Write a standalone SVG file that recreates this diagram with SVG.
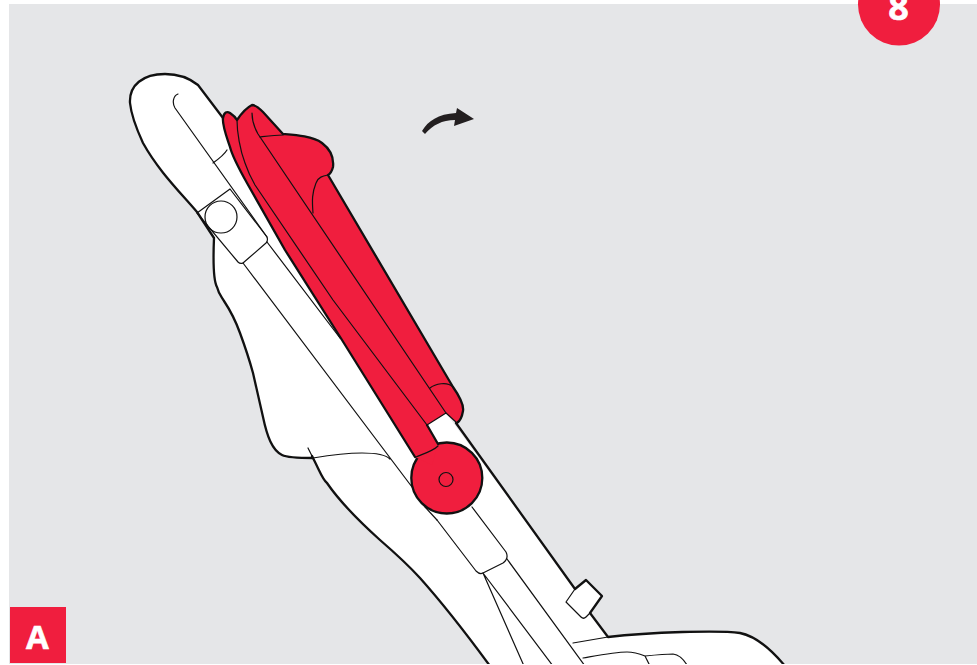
<svg xmlns="http://www.w3.org/2000/svg" width="977" height="665" viewBox="0 0 977 665">
<style>
.k{stroke:#111;stroke-width:2.3;stroke-linejoin:round;stroke-linecap:round}
.t{fill:none;stroke:#111;stroke-width:1.2;stroke-linecap:round;stroke-linejoin:round}
.w{fill:#fff}.r{fill:#f01e3e}.n{fill:none}
.l{font-family:"Open Sans","Liberation Sans",sans-serif;font-weight:700;fill:#fff;stroke:#fff;stroke-width:.6;text-anchor:middle}
</style>
<defs><clipPath id="c"><rect x="9" y="4" width="968" height="660"/></clipPath></defs>
<rect width="977" height="665" fill="#fff"/>
<rect x="9" y="4" width="968" height="660" fill="#e5e6e8"/>
<g id="stroller" clip-path="url(#c)">
<path id="body-fill" class="w" d="M198 85C188 77 178 74 165 74C143 74 129 85 130 103C131 113 137 130 143 143C158 170 178 190 197 212L214 238C213 262 213 280 217 287C219 295 222 297 224 301C232 313 236 322 240 333C247 352 250 362 253 373L263 417C267 436 272 450 282 455C288 458 300 458 313 458L315 462C320 472 323 480 327 483C340 502 360 522 380 540C395 553 410 567 420 578C445 606 468 636 490 666L786 666C770 648 755 636 740 633C720 630 650 632 608 637L590 613L602 596L586 580L575 589L446 413L340 250L222 117Z"/>
<g id="body-outline" class="n">
<path class="k" d="M223 118L198 85C188 77 178 74 165 74C143 74 129 85 130 103C131 113 137 130 143 143C158 170 178 190 197 212L214 238C213 262 213 280 217 287C219 295 222 297 224 301C232 313 236 322 240 333C247 352 250 362 253 373L263 417C267 436 272 450 282 455C288 458 300 458 313 458"/>
<path class="k" d="M312 456L315 462C320 472 323 480 327 483C340 502 360 522 380 540C395 553 410 567 420 578C445 606 468 636 490 666"/>
<path class="k" d="M456 423L575 589M590 613L608 637C650 632 720 630 740 633C755 636 770 648 785 666"/>
</g>
<g id="body-lines">
<path class="t" d="M178 94C173 96 172 103 175 108L267 237"/>
<path class="t" d="M213 163C220 158 224 155 227 150"/>
<path class="t" d="M197 213L230 189L267 237C268 240 267 242 266 243L243 263C241 264 240 264 238 262L197 213"/>
<circle class="t" cx="221" cy="217" r="16"/>
<path class="t" d="M267 242L340 338"/>
<path class="t" d="M243 263L412 487M425 507L437 520"/>
<path class="t" d="M308 448L315 462M313 458C325 456 345 453 362 453C375 453 385 454 390 459"/>
<path class="t" d="M437 520L476 571C478 573 481 574 483 573L503 563C507 560 508 556 506 552L472 507"/>
<path class="t" d="M507 559L585 666M483 573L524 666M483 573L553 666"/>
<path class="t" d="M573 643L608 637M583 658C600 655 615 652 627 652C635 652 640 654 645 656C655 655 665 654 673 654C680 655 684 660 687 665M645 656L650 666"/>
</g>
<g id="tab">
<path class="w" d="M575 589L586 580L602 596L590 613L586 617C584 619 582 618 581 617L566 602Z"/>
<path class="t" d="M575 589L566 602L581 617C582 618 584 619 586 617L590 613"/>
<path class="k n" d="M575 589L586 580L602 596L590 613"/>
</g>
<g id="red-knob">
<circle class="r k" cx="446.800" cy="478" r="35.500"/>
</g>
<g id="red-handle">
<path class="r" d="M415 457L342 340L285 250L247 183C238 167 232 155 230 147C226 135 222 125 223 118C224 112 227 111 230 113C233 115 236 118 237 120C241 114 246 108 252 105C255 105 259 108 263 112L283 134C295 135 312 136 322 143C330 149 334 158 333 167C332 171 330 174 328 175L453 387C460 397 464 405 463 411C462 417 460 421 457 423L446 413L427 425L438 444L432 465Z"/>
<path class="k n" d="M415 457L342 340L285 250L247 183C238 167 232 155 230 147C226 135 222 125 223 118C224 112 227 111 230 113C233 115 236 118 237 120C241 114 246 108 252 105C255 105 259 108 263 112L283 134C295 135 312 136 322 143C330 149 334 158 333 167C332 171 330 174 328 175L453 387C460 397 464 405 463 411C462 417 460 421 457 423"/>
<path class="k n" d="M427 425L438 444"/>
<path class="t" d="M457 423L446 413L427 425"/>
<path class="t" d="M252 113C252 120 254 127 258 134L446 413"/>
<path class="t" d="M237 120C237 132 240 150 245 163C248 172 251 178 255 185L333 300L427 425"/>
<path class="t" d="M260 137C268 136 275 135 283 135"/>
<path class="t" d="M313 213C312 200 312 193 316 183C318 177 323 176 328 175"/>
<path class="t" d="M430 388C435 384 447 381 453 387"/>
<path class="t" d="M416 457C423 454 433 451 438 446"/>
<circle class="t" cx="446" cy="479.500" r="7"/>
</g>
</g>
<path id="arrow" fill="#231f20" d="M422 131C428 121 438 114 456 113L457 108L474 119L454 126L455 120C442 120 433 125 425 134Z"/>
<g id="badge-8">
<circle class="r" cx="899" cy="4.500" r="41"/>
<text class="l" x="898.500" y="20" font-size="36">8</text>
</g>
<g id="label-a">
<rect class="r" x="10" y="607" width="56" height="56"/>
<text class="l" x="37.500" y="649" font-size="33">A</text>
</g>
</svg>
